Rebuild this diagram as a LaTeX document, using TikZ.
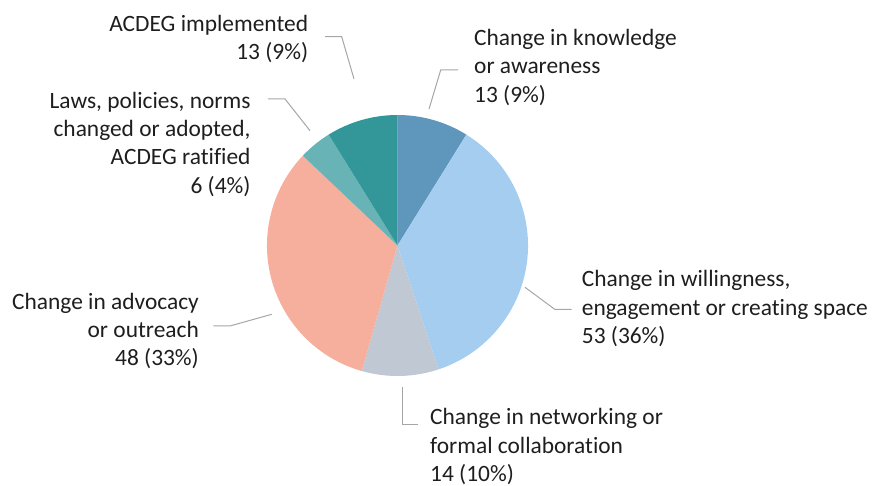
\documentclass[tikz,border=0pt]{standalone}
\usepackage{fontspec}
\setmainfont{Carlito}[Ligatures=NoCommon]
\definecolor{cKnow}{HTML}{5F96BC}
\definecolor{cWill}{HTML}{A4CDEF}
\definecolor{cNet}{HTML}{BFC8D3}
\definecolor{cAdv}{HTML}{F6AE9D}
\definecolor{cLaw}{HTML}{67B3B6}
\definecolor{cImp}{HTML}{339799}
\definecolor{cLead}{HTML}{A6A6A6}
\definecolor{cText}{HTML}{1E1E1E}
\begin{document}
\begin{tikzpicture}[x=1pt,y=1pt,
  lbl/.style={inner sep=0pt,text=cText,font=\fontsize{23.4}{28.3}\selectfont},
  lw/.style={lbl,anchor=base west},
  le/.style={lbl,anchor=base east},
  leader/.style={draw=cLead,line width=1pt}]
\useasboundingbox (0,0) rectangle (872,486);
\coordinate (c) at (397.5,240.5);
\def\R{130.5}
% slices
\fill[cKnow] (c) -- ++(90:\R) arc[start angle=90,end angle=58.163,radius=\R] -- cycle;
\fill[cWill] (c) -- ++(58.163:\R) arc[start angle=58.163,end angle=-71.633,radius=\R] -- cycle;
\fill[cNet] (c) -- ++(-71.633:\R) arc[start angle=-71.633,end angle=-105.918,radius=\R] -- cycle;
\fill[cAdv] (c) -- ++(-105.918:\R) arc[start angle=-105.918,end angle=-223.469,radius=\R] -- cycle;
\fill[cLaw] (c) -- ++(-223.469:\R) arc[start angle=-223.469,end angle=-238.163,radius=\R] -- cycle;
\fill[cImp] (c) -- ++(-238.163:\R) arc[start angle=-238.163,end angle=-270,radius=\R] -- cycle;
% labels
\node[lw] (k1) at (474,440.3) {Change in knowledge};
\node[lw] (k2) at (474,412) {or awareness};
\node[lw] (k3) at (474,383.7) {13 (9\%)};
\node[le] (i1) at (308.3,454.3) {ACDEG implemented};
\node[le] (i2) at (308.3,426) {13 (9\%)};
\node[le] (l1) at (250.7,377.7) {Laws, policies, norms};
\node[le] (l2) at (250.7,349.3) {changed or adopted,};
\node[le] (l3) at (250.7,321) {ACDEG ratified};
\node[le] (l4) at (250.7,292.7) {6 (4\%)};
\node[lw] (w1) at (581.7,199) {Change in willingness,};
\node[lw] (w2) at (581.7,170.7) {engagement or creating space};
\node[lw] (w3) at (581.7,142.4) {53 (36\%)};
\node[le] (a1) at (199,176.7) {Change in advocacy};
\node[le] (a2) at (199,148.3) {or outreach};
\node[le] (a3) at (199,120) {48 (33\%)};
\node[lw] (n1) at (430,61) {Change in networking or};
\node[lw] (n2) at (430,32.7) {formal collaboration};
\node[lw] (n3) at (430,4.4) {14 (10\%)};
% leaders
\coordinate (kA) at (429,377);
\coordinate (kB) at (440.7,416);
\coordinate (kC) at (458,416);
\draw[leader] (kA) -- (kB) -- (kC);
\coordinate (iA) at (354,407);
\coordinate (iB) at (341.7,449.3);
\coordinate (iC) at (325,449.3);
\draw[leader] (iA) -- (iB) -- (iC);
\coordinate (lA) at (310,355.3);
\coordinate (lB) at (285,387);
\coordinate (lC) at (268,387);
\draw[leader] (lA) -- (lB) -- (lC);
\coordinate (aA) at (271.7,171.7);
\coordinate (aB) at (230,160);
\coordinate (aC) at (213.3,160);
\draw[leader] (aA) -- (aB) -- (aC);
\coordinate (nA) at (402.5,99.3);
\coordinate (nB) at (402.5,61.7);
\coordinate (nC) at (418.3,61.7);
\draw[leader] (nA) -- (nB) -- (nC);
\coordinate (wA) at (525,198.7);
\coordinate (wB) at (555,176.5);
\coordinate (wC) at (571.7,176.5);
\draw[leader] (wA) -- (wB) -- (wC);
\end{tikzpicture}
\end{document}
